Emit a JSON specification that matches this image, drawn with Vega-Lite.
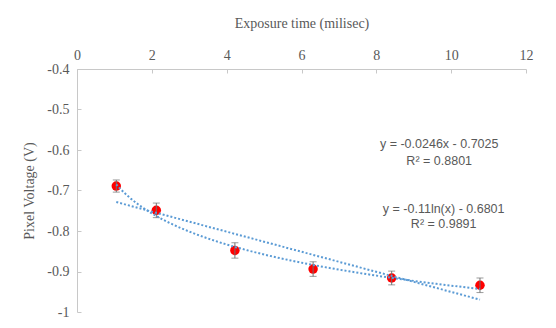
{
  "$schema": "https://vega.github.io/schema/vega-lite/v6.json",
  "width": 449,
  "height": 243,
  "autosize": "none",
  "padding": {"left": 77, "top": 69, "right": 30, "bottom": 16},
  "background": "white",
  "config": {
    "view": {"stroke": null},
    "axis": {
      "grid": false,
      "domainColor": "#c8c8c8",
      "tickColor": "#c8c8c8",
      "labelColor": "#595959",
      "titleColor": "#595959",
      "labelFont": "Liberation Serif",
      "titleFont": "Liberation Serif",
      "labelFontSize": 14,
      "titleFontSize": 14,
      "titleFontWeight": "normal"
    }
  },
  "datasets": {
    "pts": [
      {"t": 1.05, "v": -0.689, "err": 0.015},
      {"t": 2.12, "v": -0.749, "err": 0.018},
      {"t": 4.22, "v": -0.848, "err": 0.019},
      {"t": 6.31, "v": -0.894, "err": 0.018},
      {"t": 8.41, "v": -0.916, "err": 0.017},
      {"t": 10.77, "v": -0.934, "err": 0.018}
    ],
    "labels": [
      {"t": 9.68, "v": -0.5854, "txt": "y = -0.0246x - 0.7025"},
      {"t": 9.68, "v": -0.6267, "txt": "R² = 0.8801"},
      {"t": 9.8, "v": -0.746, "txt": "y = -0.11ln(x) - 0.6801"},
      {"t": 9.8, "v": -0.783, "txt": "R² = 0.9891"}
    ]
  },
  "encoding": {
    "x": {
      "field": "t", "type": "quantitative",
      "scale": {"domain": [0, 12], "nice": false, "zero": false},
      "axis": {
        "orient": "top",
        "title": "Exposure time (milisec)",
        "values": [0, 2, 4, 6, 8, 10, 12],
        "tickSize": -4,
        "labelPadding": 11,
        "titlePadding": 18,
        "labelFlush": false,
        "labelOverlap": false
      }
    },
    "y": {
      "field": "v", "type": "quantitative",
      "scale": {"domain": [-1, -0.4], "nice": false, "zero": false},
      "axis": {
        "title": "Pixel Voltage (V)",
        "values": [-1, -0.9, -0.8, -0.7, -0.6, -0.5, -0.4],
        "labelExpr": "replace(format(datum.value, '.1~f'), '\u2212', '-')",
        "tickSize": -4,
        "labelPadding": 12,
        "titlePadding": 10,
        "labelFlush": false,
        "labelOverlap": false
      }
    }
  },
  "layer": [
    {
      "data": {"name": "pts"},
      "mark": {"type": "point", "filled": true, "shape": "circle", "color": "#ff0000", "opacity": 1, "size": 90}
    },
    {
      "data": {"name": "pts"},
      "mark": {"type": "errorbar", "ticks": {"size": 7, "color": "#707070"}, "rule": {"color": "#707070"}, "color": "#707070"},
      "encoding": {
        "yError": {"field": "err"}
      }
    },
    {
      "data": {"name": "pts"},
      "transform": [{"regression": "v", "on": "t", "method": "linear"}],
      "mark": {"type": "line", "color": "#5b9bd5", "strokeWidth": 2, "strokeDash": [2, 2]}
    },
    {
      "data": {"name": "pts"},
      "transform": [{"regression": "v", "on": "t", "method": "log"}],
      "mark": {"type": "line", "color": "#5b9bd5", "strokeWidth": 2, "strokeDash": [2, 2]}
    },
    {
      "data": {"name": "labels"},
      "mark": {"type": "text", "font": "Liberation Sans", "fontSize": 12.5, "color": "#595959", "align": "center", "baseline": "middle"},
      "encoding": {
        "text": {"field": "txt"}
      }
    }
  ]
}
